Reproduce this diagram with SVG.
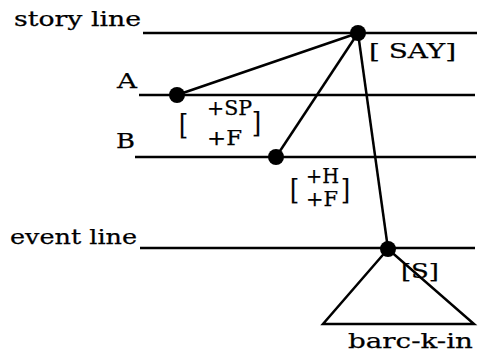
<svg xmlns="http://www.w3.org/2000/svg" width="488" height="354" viewBox="0 0 488 354">
<style>
text{font-family:"DejaVu Serif","Liberation Serif",serif;font-size:21px;fill:#000;stroke:#000;stroke-width:0.25}
.sm{font-size:20px}
.br{font-size:27px}
.ln{stroke:#000;stroke-width:2.5;fill:none}
.dot{fill:#000}
</style>
<rect width="488" height="354" fill="#fff"/>
<g id="levels">
<line class="ln" x1="143" y1="33" x2="477" y2="33"/>
<line class="ln" x1="139" y1="95" x2="475" y2="95"/>
<line class="ln" x1="135" y1="157" x2="476" y2="157"/>
<line class="ln" x1="140" y1="248" x2="475" y2="248"/>
<text x="14" y="26" textLength="127" lengthAdjust="spacingAndGlyphs">story line</text>
<text x="117" y="88" textLength="20" lengthAdjust="spacingAndGlyphs">A</text>
<text x="116" y="148" textLength="19" lengthAdjust="spacingAndGlyphs">B</text>
<text x="10" y="244" textLength="127" lengthAdjust="spacingAndGlyphs">event line</text>
</g>
<g id="connectors">
<line class="ln" x1="358" y1="33" x2="177" y2="95"/>
<line class="ln" x1="358" y1="33" x2="276" y2="157"/>
<line class="ln" x1="358" y1="33" x2="388" y2="249"/>
</g>
<g id="node-say">
<circle class="dot" cx="358" cy="33" r="8"/>
<text x="369" y="58" textLength="87" lengthAdjust="spacingAndGlyphs">[ SAY]</text>
</g>
<g id="node-a">
<circle class="dot" cx="177" cy="95" r="8"/>
<text class="br" x="179" y="134" textLength="9" lengthAdjust="spacingAndGlyphs">[</text>
<text class="sm" x="207" y="115" textLength="45" lengthAdjust="spacingAndGlyphs">+SP</text>
<text class="sm" x="207" y="145" textLength="35" lengthAdjust="spacingAndGlyphs">+F</text>
<text class="br" x="252" y="132" textLength="9" lengthAdjust="spacingAndGlyphs">]</text>
</g>
<g id="node-b">
<circle class="dot" cx="276" cy="157" r="8"/>
<text class="br" x="290" y="199" textLength="9" lengthAdjust="spacingAndGlyphs">[</text>
<text class="sm" x="306" y="183" textLength="33" lengthAdjust="spacingAndGlyphs">+H</text>
<text class="sm" x="306" y="206" textLength="32" lengthAdjust="spacingAndGlyphs">+F</text>
<text class="br" x="341" y="199" textLength="9" lengthAdjust="spacingAndGlyphs">]</text>
</g>
<g id="node-s">
<circle class="dot" cx="388" cy="249" r="8"/>
<path class="ln" d="M388 249 L323 324 L474 324 Z" stroke-linejoin="miter"/>
<text x="401" y="278" textLength="38" lengthAdjust="spacingAndGlyphs">[S]</text>
<text x="348" y="348" textLength="125" lengthAdjust="spacingAndGlyphs">barc-k-in</text>
</g>
</svg>
